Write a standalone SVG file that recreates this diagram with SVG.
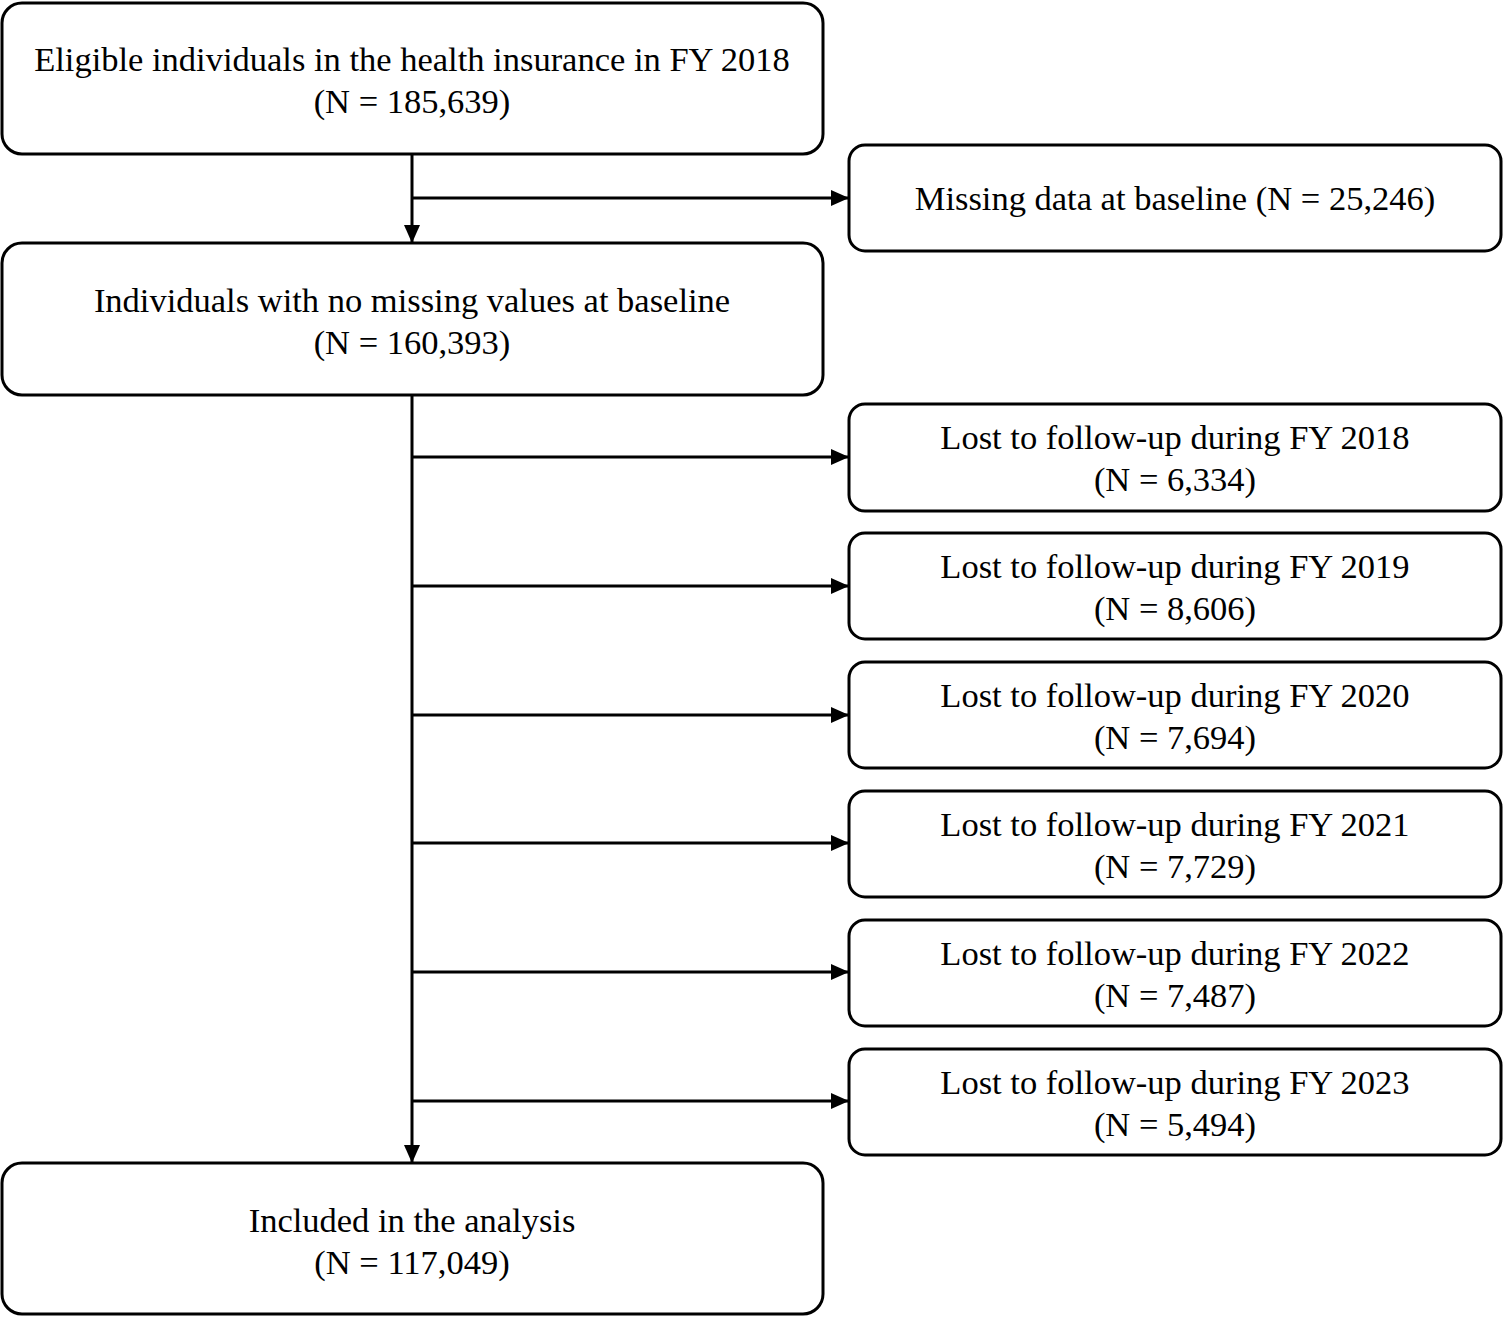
<svg xmlns="http://www.w3.org/2000/svg" width="1504" height="1317" viewBox="0 0 1504 1317">
<style>
.b{fill:#fff;stroke:#000;stroke-width:3}
text{font-family:"Liberation Serif",serif;font-size:34.5px;text-anchor:middle;fill:#000}
.c{stroke:#000;stroke-width:3;fill:none}
</style>
<defs>
<marker id="h" markerWidth="18" markerHeight="16" refX="18" refY="8" orient="auto" markerUnits="userSpaceOnUse"><path d="M0,0L18,8L0,16z"/></marker></defs>
<rect width="1504" height="1317" fill="#fff"/>
<g id="connectors">
<path class="c" d="M412,154V243" marker-end="url(#h)"/>
<path class="c" d="M412,395V1163" marker-end="url(#h)"/>
<path class="c" d="M412,198H849" marker-end="url(#h)"/>
<path class="c" d="M412,457H849" marker-end="url(#h)"/>
<path class="c" d="M412,586H849" marker-end="url(#h)"/>
<path class="c" d="M412,715H849" marker-end="url(#h)"/>
<path class="c" d="M412,843H849" marker-end="url(#h)"/>
<path class="c" d="M412,972H849" marker-end="url(#h)"/>
<path class="c" d="M412,1101H849" marker-end="url(#h)"/>
</g>
<g id="n1"><rect class="b" x="2" y="3" width="821" height="151" rx="20"/><text x="412" y="71">Eligible individuals in the health insurance in FY 2018</text><text x="412" y="113">(N = 185,639)</text></g>
<g id="n2"><rect class="b" x="2" y="243" width="821" height="152" rx="20"/><text x="412" y="312">Individuals with no missing values at baseline</text><text x="412" y="354">(N = 160,393)</text></g>
<g id="n3"><rect class="b" x="2" y="1163" width="821" height="151" rx="20"/><text x="412" y="1232">Included in the analysis</text><text x="412" y="1274">(N = 117,049)</text></g>
<g id="m0"><rect class="b" x="849" y="145" width="652" height="106" rx="16"/><text x="1175" y="210">Missing data at baseline (N = 25,246)</text></g>
<g id="m1"><rect class="b" x="849" y="404" width="652" height="107" rx="16"/><text x="1175" y="449">Lost to follow-up during FY 2018</text><text x="1175" y="491">(N = 6,334)</text></g>
<g id="m2"><rect class="b" x="849" y="533" width="652" height="106" rx="16"/><text x="1175" y="578">Lost to follow-up during FY 2019</text><text x="1175" y="620">(N = 8,606)</text></g>
<g id="m3"><rect class="b" x="849" y="662" width="652" height="106" rx="16"/><text x="1175" y="707">Lost to follow-up during FY 2020</text><text x="1175" y="749">(N = 7,694)</text></g>
<g id="m4"><rect class="b" x="849" y="791" width="652" height="106" rx="16"/><text x="1175" y="836">Lost to follow-up during FY 2021</text><text x="1175" y="878">(N = 7,729)</text></g>
<g id="m5"><rect class="b" x="849" y="920" width="652" height="106" rx="16"/><text x="1175" y="965">Lost to follow-up during FY 2022</text><text x="1175" y="1007">(N = 7,487)</text></g>
<g id="m6"><rect class="b" x="849" y="1049" width="652" height="106" rx="16"/><text x="1175" y="1094">Lost to follow-up during FY 2023</text><text x="1175" y="1136">(N = 5,494)</text></g>
</svg>
